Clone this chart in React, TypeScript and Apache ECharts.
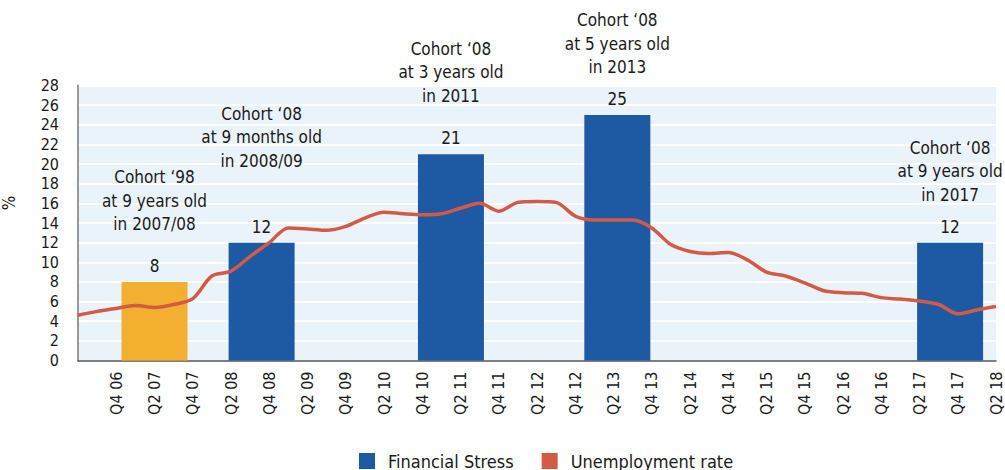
import React, { useEffect, useRef } from "react";
import * as echarts from "echarts";

const QUARTERS = [
  "Q2 06", "Q3 06", "Q4 06",
  "Q1 07", "Q2 07", "Q3 07", "Q4 07",
  "Q1 08", "Q2 08", "Q3 08", "Q4 08",
  "Q1 09", "Q2 09", "Q3 09", "Q4 09",
  "Q1 10", "Q2 10", "Q3 10", "Q4 10",
  "Q1 11", "Q2 11", "Q3 11", "Q4 11",
  "Q1 12", "Q2 12", "Q3 12", "Q4 12",
  "Q1 13", "Q2 13", "Q3 13", "Q4 13",
  "Q1 14", "Q2 14", "Q3 14", "Q4 14",
  "Q1 15", "Q2 15", "Q3 15", "Q4 15",
  "Q1 16", "Q2 16", "Q3 16", "Q4 16",
  "Q1 17", "Q2 17", "Q3 17", "Q4 17",
  "Q1 18", "Q2 18",
];

const UNEMPLOYMENT = [
  4.6, 5.0, 5.3,
  5.6, 5.4, 5.7, 6.3,
  8.6, 9.1, 10.6, 12.0,
  13.5, 13.4, 13.25, 13.65,
  14.5, 15.1, 14.95, 14.85,
  14.95, 15.5, 16.0, 15.2,
  16.1, 16.2, 16.1, 14.7,
  14.3, 14.3, 14.3, 13.5,
  11.8, 11.1, 10.9, 11.0,
  10.25, 9.0, 8.6, 7.9,
  7.1, 6.9, 6.85, 6.4,
  6.25, 6.05, 5.7, 4.75,
  5.15, 5.5,
];

// Financial stress survey waves: position on the quarter index, value (%)
const STRESS_POS = [4, 9.6, 19.5, 28.2, 45.6];
const STRESS_VAL = [8, 12, 21, 25, 12];
const STRESS_NOTES = [
  ["Cohort \u201898", "at 9 years old", "in 2007/08"],
  ["Cohort \u201808", "at 9 months old", "in 2008/09"],
  ["Cohort \u201808", "at 3 years old", "in 2011"],
  ["Cohort \u201808", "at 5 years old", "in 2013"],
  ["Cohort \u201808", "at 9 years old", "in 2017"],
];

const NOTE_GAP = [19, 43, 20, 9, 9];
const FONT = "'DejaVu Sans Condensed', 'Liberation Sans Narrow', sans-serif";
const BLUE = "#1D5AA3";
const ORANGE = "#F3AF2F";
const RED = "#D35A44";
const TEXT = "#1a1a1a";

export default function App() {
  const ref = useRef<HTMLDivElement>(null);
  useEffect(() => {
    if (!ref.current) return;
    const chart = echarts.init(ref.current, null, { renderer: "svg" });
    const rich: any = {
      a: { fontSize: 17, lineHeight: 23.5, fontFamily: FONT, color: TEXT },
      v: { fontSize: 17, lineHeight: 22, fontFamily: FONT, color: TEXT },
    };
    NOTE_GAP.forEach((g, i) => {
      rich["g" + i] = { fontSize: 1, lineHeight: g };
    });
    const barData = STRESS_POS.map((p, i) => ({
      value: [p, STRESS_VAL[i]],
      itemStyle: i === 0 ? { color: ORANGE } : undefined,
    }));
    chart.setOption({
      animation: false,
      textStyle: { fontFamily: FONT, color: TEXT },
      grid: {
        left: 78,
        right: 9,
        top: 85.5,
        bottom: 109.5,
        show: true,
        backgroundColor: "#EAF3FA",
        borderWidth: 0,
        containLabel: false,
        outerBoundsMode: "none",
      },
      legend: {
        left: 354,
        top: 447,
        itemWidth: 16,
        itemHeight: 16,
        itemGap: 28,
        textStyle: { fontSize: 18, fontFamily: FONT, color: TEXT, padding: [0, 0, 0, 8] },
        data: [
          { name: "Financial Stress", icon: "rect", itemStyle: { color: BLUE } },
          { name: "Unemployment rate", icon: "rect", itemStyle: { color: RED } },
        ],
      },
      xAxis: [
        {
          type: "category",
          data: QUARTERS,
          boundaryGap: false,
          axisLine: { show: true, lineStyle: { color: "#555", width: 1.5 } },
          axisTick: { show: false },
          splitLine: { show: false },
          axisLabel: {
            rotate: 90,
            margin: 11,
            fontSize: 16,
            fontFamily: FONT,
            color: TEXT,
            interval: (idx: number) => idx >= 2 && idx % 2 === 0,
          },
        },
        {
          type: "value",
          min: 0,
          max: QUARTERS.length - 1,
          show: false,
          splitLine: { show: false },
        },
      ],
      yAxis: {
        type: "value",
        min: 0,
        max: 28,
        interval: 2,
        name: "%",
        nameLocation: "middle",
        nameGap: 61,
        nameRotate: 90,
        nameTextStyle: { fontSize: 17, fontFamily: FONT, color: TEXT, padding: [0, 0, 0, 40] },
        axisLine: { show: true, lineStyle: { color: "#999", width: 2 } },
        axisTick: { show: false },
        axisLabel: { fontSize: 16, fontFamily: FONT, color: TEXT, margin: 19 },
        splitLine: { show: true, lineStyle: { color: "#ffffff", width: 2 } },
      },
      series: [
        {
          name: "Financial Stress",
          type: "bar",
          xAxisIndex: 1,
          yAxisIndex: 0,
          barWidth: 66,
          itemStyle: { color: BLUE },
          data: barData,
          z: 2,
          label: {
            show: true,
            position: "top",
            distance: 5,
            rich,
            formatter: (p: any) => {
              const i = p.dataIndex;
              const lines = STRESS_NOTES[i].map((t) => `{a|${t}}`).join("\n");
              return `${lines}\n{g${i}| }\n{v|${STRESS_VAL[i]}}`;
            },
          },
        },
        {
          name: "Unemployment rate",
          type: "line",
          xAxisIndex: 0,
          yAxisIndex: 0,
          data: UNEMPLOYMENT,
          smooth: 0.3,
          showSymbol: false,
          symbol: "none",
          lineStyle: { color: RED, width: 3.5 },
          itemStyle: { color: RED },
          z: 3,
        },
      ],
    });
    return () => chart.dispose();
  }, []);
  return (
    <div
      ref={ref}
      style={{ position: "absolute", left: 0, top: 0, width: 1005, height: 470 }}
    />
  );
}
